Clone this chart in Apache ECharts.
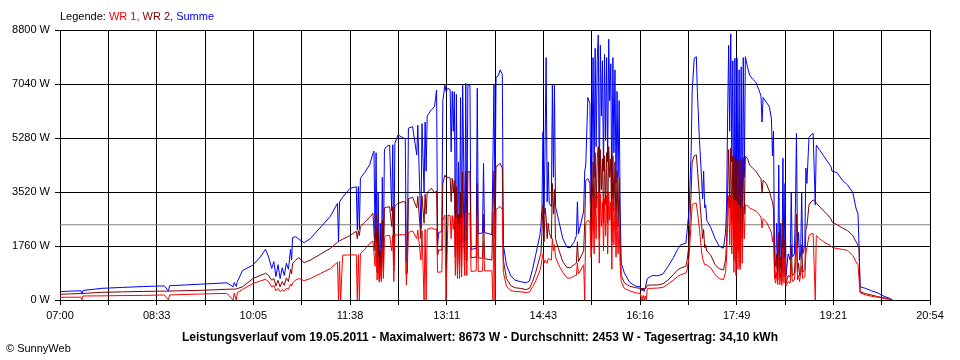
<!DOCTYPE html>
<html><head><meta charset="utf-8">
<script src="https://cdn.jsdelivr.net/npm/echarts@6/dist/echarts.min.js"></script>
<style>html,body{margin:0;padding:0;background:#fff}#c{width:960px;height:360px}</style>
</head><body><div id="c"></div>
<script>
// time of each reading, minutes after 07:00
const minutesFromStart = [
0,10,20,21,22,40,60,80,100,104,
105,120,140,160,166,167,169,170,175,185,
192,197,200,203,205,207,209,211,213,215,
217,219,221,222,223,226,229,234,240,250,
259,266,267,268,269,271,278,284,285,286,
287,288,292,297,300,301,302,303,304,305,
306,307,308,309,310,311,313,316,318,319,
320,321,324,328,331,332,333,334,338,342,
343,346,347,349,350,351,352,356,359,361,
362,363,366,367,369,370,372,374,375,376,
377,378,379,380,381,382,383,384,385,386,
388,389,390,391,393,394,399,400,401,405,
406,407,414,415,416,417,418,420,422,424,
425,428,432,436,441,447,450,453,456,460,
461,462,463,464,465,466,467,468,469,471,
472,473,474,475,478,482,486,489,493,495,
496,497,502,503,504,506,508,509,510,511,
512,513,514,515,516,517,518,519,520,521,
522,523,524,525,526,527,528,529,530,531,
532,533,534,535,536,537,538,541,546,552,
556,557,558,559,560,561,562,563,568,573,
578,583,588,592,595,600,601,603,605,606,
608,610,611,613,615,616,617,618,619,620,
624,628,632,636,638,639,640,641,642,643,
644,645,646,647,648,649,650,651,652,653,
654,655,656,657,659,661,664,667,670,672,
673,674,677,680,682,683,684,685,686,687,
688,689,690,691,692,693,694,695,696,698,
700,701,702,704,705,706,707,708,709,710,
711,712,714,715,716,718,720,722,723,724,
725,728,732,736,739,740,741,745,750,755,
760,763,765,766,767,772,778,784,790,795,
798
];
// Summe (W)
const summe = [
270,290,300,190,310,380,410,440,460,290,
465,490,525,560,430,570,440,600,960,1140,
1400,1650,1400,1030,1250,760,1150,700,1050,800,
1200,1000,1650,1300,2040,2060,1980,1870,2000,2380,
2720,3150,1900,3200,3250,3350,3640,3690,2280,3700,
2300,3970,4150,4420,4780,4850,2000,4800,1200,3500,
900,2500,1000,4000,1400,4900,5000,5050,2900,5060,
1150,5100,5380,5300,5250,1250,1400,5600,5650,4730,
5700,2340,5750,3500,5800,4200,6000,6200,6300,6840,
1800,2200,2230,6500,7000,6800,6900,6850,4830,6800,
5500,6790,2000,6700,1800,4500,1800,6600,1900,7000,
1900,7060,1900,7000,7000,1650,1680,6900,2170,2180,
4450,2200,2130,2100,7000,3000,7250,7300,7500,7350,
1800,1140,800,650,600,560,620,1000,1470,2100,
2400,3000,5480,2800,5000,7900,3200,4500,3150,3050,
7000,4000,7000,3050,2600,2000,1720,1700,1900,2100,
3200,2150,2900,4200,4400,6600,6400,3200,4500,7900,
4000,8200,5000,7800,8640,3500,8300,6000,7800,4200,
8000,5200,7900,4500,8500,6500,7700,3300,7900,4800,
7500,3800,6800,4000,6500,3000,1200,880,580,450,
430,400,300,390,280,400,350,700,800,790,
850,1100,1380,1650,1800,1850,2200,2900,4800,6800,
7880,7930,6800,5200,4000,3300,4200,3000,3100,2600,
2350,2000,1750,1690,2200,3000,6000,8300,5500,8673,
4500,7800,2000,7880,1800,7880,2500,7500,1500,7600,
2500,7900,4000,7930,7600,7330,7200,7100,6850,6650,
5800,6600,6450,6300,5900,4700,5500,1250,1100,2500,
1000,4400,1100,2500,900,4620,1200,3800,800,1500,
1300,3500,1400,1500,3000,5430,1700,2200,1300,1500,
3500,1500,1800,4300,3800,5300,5380,5430,5400,3100,
5050,4900,4700,4500,4350,4200,4250,4150,3900,3750,
3500,3000,2800,1700,430,380,300,230,120,60,
0
];
// WR 2 (W)
const wr2 = [
185,200,210,210,215,250,265,280,290,290,
295,305,320,350,355,360,360,370,430,700,
800,870,800,640,700,460,640,430,600,480,
720,600,1000,850,1200,1300,1380,1220,1300,1500,
1680,1880,1900,1930,1950,1980,2100,2240,2000,2260,
2100,2390,2520,2700,2830,2840,1600,2800,900,2300,
680,1600,700,2600,1000,3000,3020,3040,2400,3040,
950,3050,3150,3200,3200,820,900,3300,3350,3000,
3380,2000,3400,2500,3450,2800,3500,3640,3500,3550,
1460,1630,1630,3800,4070,4000,4000,3980,3200,3970,
3500,3900,1400,3700,1000,2800,900,3500,1100,4180,
1300,4180,1300,4180,4180,1380,1400,3800,1370,1360,
2800,1350,1300,1300,4200,2000,4350,4400,4450,4300,
1300,700,470,400,380,340,380,600,900,1400,
1500,2200,3100,1900,3000,2700,2000,2500,2200,2000,
3800,2800,3600,2000,1650,1250,1060,1050,1150,1200,
1900,1250,1600,2500,3900,3960,3800,2000,2800,4500,
2200,4800,3000,4600,5000,2000,4900,3600,4600,2500,
4700,3100,4800,2500,5000,4000,4600,1900,4700,2900,
4500,2300,4200,2400,4000,1800,800,560,450,400,
380,380,370,380,370,390,400,480,490,490,
530,650,830,980,1040,1100,1250,1800,3500,4500,
4700,4730,4300,3400,2500,2000,2300,1700,1800,1600,
1450,1150,1020,980,1300,1900,3500,4900,3000,4950,
2500,4700,1300,4650,1200,4600,1600,4500,1100,4600,
2000,4650,2800,4680,4620,4400,4300,4200,4050,3950,
3480,3900,3800,3550,3300,3200,2950,900,700,1500,
650,2200,700,1400,600,2600,750,2000,550,800,
750,1800,800,850,1500,2800,900,1200,800,900,
1800,900,1000,2300,2400,3100,3200,3260,3250,3200,
3150,3050,2900,2770,2650,2550,2500,2450,2350,2260,
2100,1900,1780,1700,270,210,160,110,70,30,
0
];
// WR 1 (W)
const wr1 = [
88,90,90,0,130,135,145,150,165,0,
165,180,200,215,0,220,0,240,345,540,
620,675,600,420,480,300,380,270,330,290,
380,350,520,450,560,650,700,630,700,870,
1020,1230,0,1260,0,1460,1470,1470,0,1480,
0,1520,1640,1850,1920,1950,1100,1900,650,1400,
580,1100,600,1700,700,2050,2100,2110,1600,2110,
600,2120,2120,2130,2130,490,500,2200,2250,2000,
2280,1300,2250,0,2300,0,2300,2350,2300,2320,
900,920,920,2600,2770,0,2770,2750,2000,2760,
2300,2700,800,2700,700,2500,700,2700,750,2830,
800,2840,800,2840,2800,930,950,2700,930,940,
1900,950,950,0,2880,0,2950,3000,3050,2950,
900,450,310,280,270,240,260,420,620,950,
1100,1300,1500,1200,1300,1250,1200,1350,1400,1300,
2000,1600,1800,1400,1150,900,720,710,790,800,
1200,850,1150,0,2500,2600,2550,1400,1800,3300,
1500,3400,2000,3300,3500,1200,3450,2400,3200,1600,
3300,2100,3400,1500,3500,2600,3200,1000,3300,1800,
3000,1400,2700,1500,2500,1100,600,380,300,230,
220,120,0,150,0,130,0,380,380,390,
410,520,650,760,820,880,950,1400,2500,3100,
3150,3150,2900,2300,1600,1350,1400,1150,1200,1150,
1040,820,700,660,900,1400,2500,3400,1800,3420,
1500,3300,900,3250,800,3200,1000,3100,1000,3000,
1200,3050,2000,3100,3080,3000,2950,2900,2800,2700,
2350,2650,2550,2350,2200,1900,2100,700,550,900,
500,1400,500,900,480,1700,550,1400,450,600,
550,1200,600,650,1000,1900,650,800,600,650,
1100,700,750,1500,1700,2100,2150,2170,2160,0,
2100,2000,1900,1820,1760,1720,1700,1680,1650,1620,
1450,1250,1150,1100,230,170,120,90,50,20,
0
];
const xTickLabels = ['07:00','08:33','10:05','11:38','13:11','14:43','16:16','17:49','19:21','20:54'];
const spanMinutes = 834;           // 07:00 .. 20:54
const yMax = 8800, yStep = 1760;
const average = 2453;
const seriesNames = ['WR 1', 'WR 2', 'Summe'];
const titleText = 'Leistungsverlauf vom 19.05.2011 - Maximalwert: 8673 W - Durchschnitt: 2453 W - Tagesertrag: 34,10 kWh';

const FONT = '"Liberation Sans", Arial, sans-serif';
const spanSec = spanMinutes * 60;
const stepSec = spanSec / 18;
const pts = arr => arr.map((v, i) => [minutesFromStart[i] * 60, v]);
const lineSeries = (name, arr, color) => ({
  type: 'line', name, data: pts(arr), symbol: 'none', showSymbol: false,
  lineStyle: { color, width: 1 }, itemStyle: { color }, silent: true,
  animation: false, sampling: null, clip: true
});

const chart = echarts.init(document.getElementById('c'), null, { renderer: 'canvas' });
chart.setOption({
  backgroundColor: '#fff',
  animation: false,
  title: [
    { left: 60, top: 10, padding: 0,
      text: '{k|Legende: }{a|' + seriesNames[0] + ', }{b|' + seriesNames[1] + ', }{c|' + seriesNames[2] + '}',
      textStyle: { fontSize: 11, fontFamily: FONT, fontWeight: 'normal', lineHeight: 14,
        rich: {
          k: { color: '#000', fontSize: 11, fontFamily: FONT, lineHeight: 14 },
          a: { color: '#ff0000', fontSize: 11, fontFamily: FONT, lineHeight: 14 },
          b: { color: '#800000', fontSize: 11, fontFamily: FONT, lineHeight: 14 },
          c: { color: '#0000ff', fontSize: 11, fontFamily: FONT, lineHeight: 14 }
        } } },
    { left: 'center', top: 331, padding: 0, text: titleText,
      textStyle: { fontSize: 12, fontFamily: FONT, fontWeight: 'bold', color: '#000', lineHeight: 14 } },
    { left: 6, top: 342, padding: 0, text: '© SunnyWeb',
      textStyle: { fontSize: 11, fontFamily: FONT, fontWeight: 'normal', color: '#000', lineHeight: 14 } }
  ],
  grid: { left: 60, right: 30, top: 30, bottom: 60, show: false },
  xAxis: {
    type: 'value', min: 0, max: spanSec, interval: stepSec,
    axisLine: { show: true, lineStyle: { color: '#000', width: 1 } },
    axisTick: { show: true, length: 5, lineStyle: { color: '#000' } },
    splitLine: { show: true, lineStyle: { color: '#000', width: 1 } },
    axisLabel: { color: '#000', fontSize: 11, fontFamily: FONT, margin: 10,
      showMinLabel: true, showMaxLabel: true,
      formatter: v => { const k = Math.round(v / stepSec); return k % 2 === 0 ? xTickLabels[k / 2] : ''; } }
  },
  yAxis: {
    type: 'value', min: 0, max: yMax, interval: yStep,
    axisLine: { show: false },
    axisTick: { show: true, length: 5, lineStyle: { color: '#000' } },
    splitLine: { show: true, lineStyle: { color: '#000', width: 1 } },
    axisLabel: { color: '#000', fontSize: 11, fontFamily: FONT, margin: 10, formatter: v => v + ' W' }
  },
  series: [
    { type: 'line', name: 'Durchschnitt', data: [[0, average], [spanSec, average]], symbol: 'none',
      lineStyle: { color: '#808080', width: 1 }, silent: true, animation: false },
    lineSeries(seriesNames[2], summe, '#0000ff'),
    lineSeries(seriesNames[1], wr2, '#800000'),
    lineSeries(seriesNames[0], wr1, '#ff0000')
  ]
});
</script>
</body></html>
